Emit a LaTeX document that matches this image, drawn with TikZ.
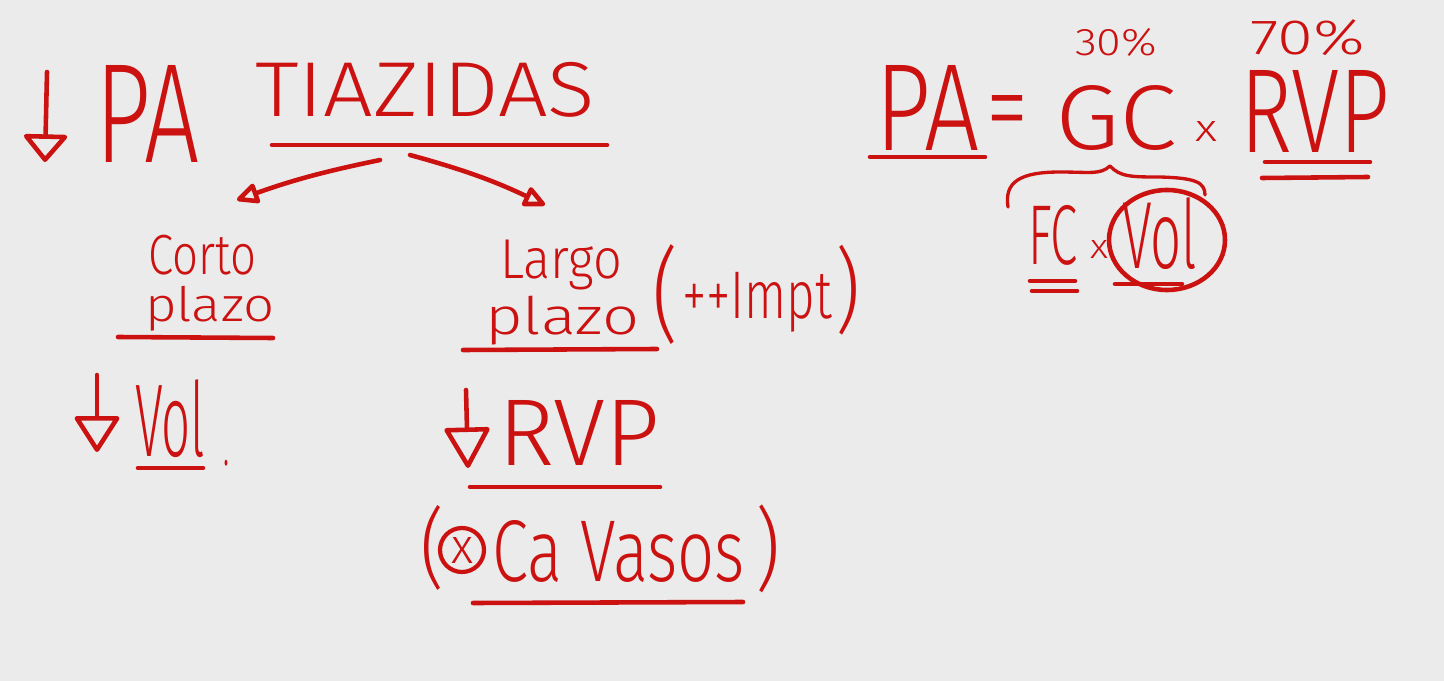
\documentclass[tikz,border=0pt]{standalone}
\usepackage{fontspec}
\setmainfont{Fira Sans Light}
\usepackage{graphicx}
\usetikzlibrary{arrows.meta,positioning,decorations.pathreplacing}
\definecolor{marker}{HTML}{CC1111}
\definecolor{board}{HTML}{EBEBEB}
\newlength\pxu
\setlength\pxu{0.2mm}
\newcommand\hw[3]{\resizebox*{#1\pxu}{#2\pxu}{#3}}

\begin{document}
\begin{tikzpicture}[
  x=0.2mm,
  y=-0.2mm,
  hand/.style={inner sep=0, outer sep=0, anchor=north west, text=marker},
  stroke/.style={draw=marker, line width=2.6pt, line cap=round, line join=round},
  thinstroke/.style={draw=marker, line width=1.9pt, line cap=round, line join=round},
  harrow/.style={stroke, -{Triangle[open, length=5mm, width=4.4mm, round]}},
  darrow/.style={stroke, -{Triangle[open, length=#1, width=9.5mm, round]}}
]
  \fill[board] (0,0) rectangle (1444,681);

  % left side
  \node[hand] (pa) at (95,65) {\hw{105}{97}{PA}};
  \node[hand] (tiaz) at (255,62) {\hw{340}{55}{TIAZIDAS}};
  \node[hand] (corto) at (148,235) {\hw{108}{40}{Corto}};
  \node[hand] (cortopl) at (145,286) {\hw{130}{45}{plazo}};
  \node[hand] (largo) at (500,240) {\hw{122}{50}{Largo}};
  \node[hand] (largopl) at (485,296) {\hw{155}{49}{plazo}};
  \node[hand] (lpar) at (652,245) {\hw{26}{100}{(}};
  \node[hand] (impt) at (682,272) {\hw{150}{60}{++Impt}};
  \node[hand] (rpar) at (835,245) {\hw{25}{90}{)}};
  \node[hand] (vol) at (135,380) {\hw{70}{78}{Vol}};
  \node[hand] (dot) at (223,460) {\hw{6}{6}{.}};
  \node[hand] (rvp) at (498,400) {\hw{162}{65}{RVP}};
  \node[hand] (lpar2) at (420,505) {\hw{24}{85}{(}};
  \node[circle, draw=marker, line width=2.4pt, minimum size=8.8mm, inner sep=0, text=marker] (ex) at (462,550) {\hw{22}{26}{x}};
  \node[hand] (cavasos) at (492,520) {\hw{253}{62}{Ca Vasos}};
  \node[hand] (rpar2) at (755,505) {\hw{25}{88}{)}};

  % right side
  \node[hand] (p30) at (1075,28) {\hw{82}{28}{30\%}};
  \node[hand] (p70) at (1250,20) {\hw{115}{36}{70\%}};
  \node[hand] (eqpa) at (875,65) {\hw{105}{85}{PA}};
  \node[hand] (eq) at (986,95) {\hw{42}{50}{=}};
  \node[hand] (gc) at (1055,85) {\hw{122}{65}{GC}};
  \node[hand] (mul) at (1195,122) {\hw{22}{20}{x}};
  \node[hand] (eqrvp) at (1240,70) {\hw{150}{82}{RVP}};
  \node[hand] (fc) at (1028,205) {\hw{50}{60}{FC}};
  \node[hand] (mul2) at (1090,240) {\hw{18}{18}{x}};
  \node[hand] (vol2) at (1122,198) {\hw{75}{72}{Vol}};

  % arrows
  \draw[harrow] ([shift={(-45,43)}]tiaz.south) to[bend right=4] ([shift={(35,-35)}]corto.north);
  \draw[harrow] ([shift={(-15,38)}]tiaz.south) to[bend left=5] ([shift={(-16,-35)}]largo.north);
  \draw[darrow=5.8mm] (47,72) -- (45,162);
  \draw[darrow=7.6mm] (97,375) -- (97,452);
  \draw[darrow=8.6mm] (466,390) -- (468,468);

  % underlines
  \draw[stroke] (272,145) -- (607,145);
  \draw[stroke] (118,337) -- (273,338);
  \draw[stroke] (463,350) -- (657,349);
  \draw[stroke] (138,468) -- (203,468);
  \draw[stroke] (470,487) -- (660,487);
  \draw[stroke] (473,603) -- (743,602);
  \draw[stroke] (870,157) -- (985,157);
  \draw[stroke] (1265,162) -- (1370,162);
  \draw[stroke] (1262,178) -- (1368,177);
  \draw[stroke] (1030,281) -- (1075,281);
  \draw[stroke] (1032,291) -- (1077,291);
  \draw[stroke] (1115,284) -- (1182,284);

  % circle and brace
  \draw[stroke] (1167,240) ellipse [x radius=58, y radius=50];
  \draw[thinstroke] (1008,207) .. controls (1004,182) and (1020,172) .. (1060,172)
    .. controls (1090,172) and (1100,175) .. (1110,166)
    .. controls (1120,177) and (1132,177) .. (1160,177)
    .. controls (1195,178) and (1205,182) .. (1205,195);
\end{tikzpicture}
\end{document}
